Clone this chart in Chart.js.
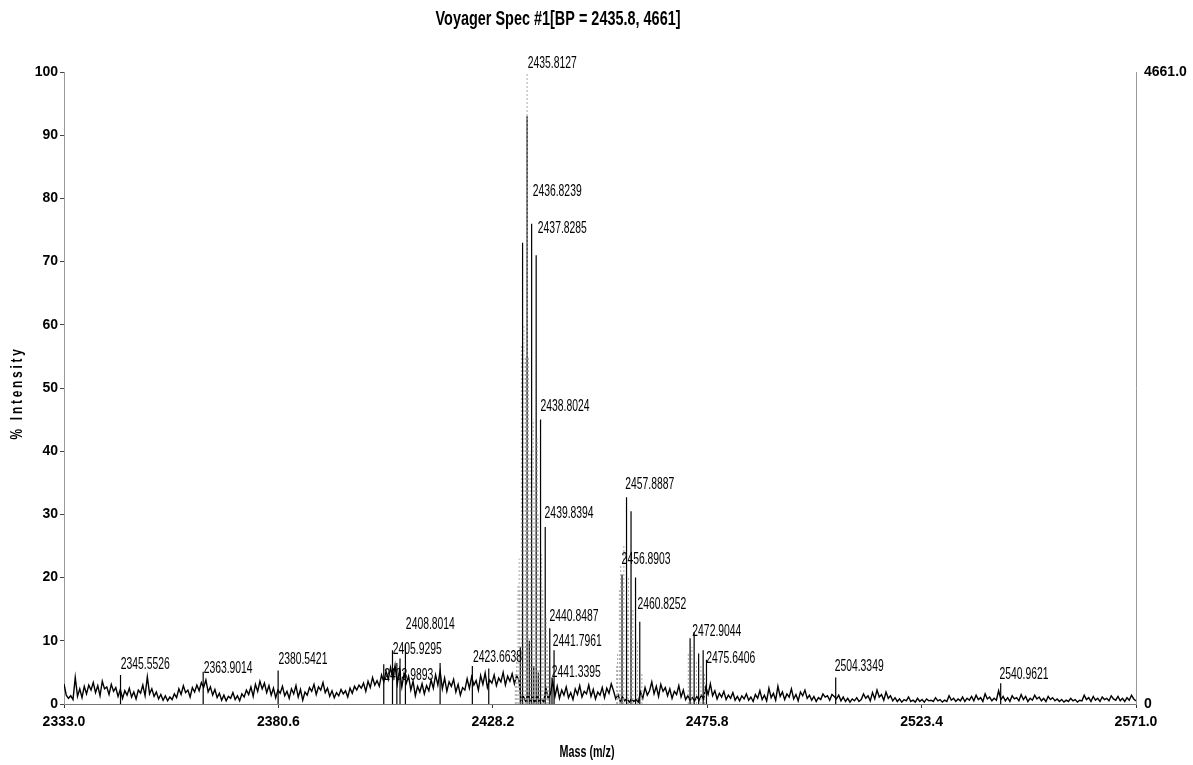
<!DOCTYPE html>
<html>
<head>
<meta charset="utf-8">
<script src="https://cdn.jsdelivr.net/npm/chart.js@4.4.1/dist/chart.umd.min.js"></script>
<style>
  html, body { margin: 0; padding: 0; background: #fff; }
  #wrap { width: 1193px; height: 765px; position: relative; }
</style>
</head>
<body>
<div id="wrap"><canvas id="c" width="1193" height="765"></canvas></div>
<script>
// ---------------- DATA ----------------
const chartTitle = 'Voyager Spec #1[BP = 2435.8, 4661]';
const xAxisTitle = 'Mass (m/z)';
const yAxisTitle = '% Intensity';
const massMin = 2333.0, massMax = 2571.0;
const xTickValues = [2333.0, 2380.6, 2428.2, 2475.8, 2523.4, 2571.0];
const basePeakCounts = 4661;

// baseline noise (% intensity), sampled every 0.5 m/z from 2333.0
const noiseStartMass = 2333.0;
const noiseStep = 0.5;
const noiseValues = [
  3.2,1.4,0.9,1.3,0.7,4.2,1.2,2.4,1.0,2.8,1.6,3.0,2.2,3.4,1.8,2.9,1.3,3.6,2.4,2.7,
  1.5,3.1,2.0,2.6,1.2,2.3,0.9,2.1,1.4,2.5,1.1,1.9,0.8,2.2,1.7,3.0,1.3,4.3,1.6,2.4,
  1.2,1.9,0.8,1.5,0.6,1.3,0.5,1.1,0.7,1.6,1.0,2.4,1.5,2.9,1.8,2.2,1.1,2.6,1.9,3.0,
  2.1,3.4,2.6,3.8,1.9,2.7,1.4,2.3,1.0,1.7,0.6,1.4,0.5,1.2,0.9,1.8,0.7,1.3,0.5,1.6,
  1.1,2.2,1.5,2.7,1.2,3.1,2.0,3.6,2.4,3.3,1.8,2.9,1.4,2.5,1.0,2.2,1.7,2.8,1.3,2.0,
  0.9,2.4,1.6,2.9,1.1,2.3,0.6,1.9,1.4,2.6,2.0,3.1,1.5,2.7,2.2,3.4,1.8,2.5,1.2,2.1,
  1.0,1.8,1.3,2.3,1.6,2.1,1.1,2.5,1.7,2.8,2.2,3.0,2.5,3.3,2.0,3.6,2.6,4.2,3.0,3.7,
  2.8,4.6,3.5,5.2,3.9,5.8,4.0,6.1,3.2,5.4,2.7,4.8,3.3,4.4,2.2,3.6,1.3,2.8,1.9,3.2,
  1.6,2.9,2.1,3.8,2.5,4.6,3.0,5.2,2.4,4.1,2.0,3.5,2.8,3.9,1.9,3.1,1.4,2.6,2.2,4.0,
  2.5,4.3,3.0,3.7,2.2,4.5,3.1,4.9,2.6,3.8,3.3,4.6,2.9,4.1,3.5,5.0,3.0,4.4,3.6,4.8,
  3.2,4.5,3.8,0.6,1.2,0.4,1.5,0.5,1.0,0.3,1.2,0.5,0.8,0.3,2.5,0.8,1.6,3.6,1.2,2.8,
  0.9,2.2,1.4,2.7,1.0,1.8,0.7,2.4,1.5,2.9,1.1,2.0,1.6,3.0,1.2,2.3,0.8,1.9,1.4,2.6,
  1.0,2.5,1.7,3.2,2.1,0.8,1.5,0.4,1.1,0.5,0.9,0.3,0.8,0.4,0.7,0.3,1.9,0.9,2.6,1.4,
  2.1,3.5,1.6,2.8,1.2,3.1,2.0,2.6,1.3,2.4,0.9,2.0,1.5,2.9,1.1,2.2,0.7,1.3,0.6,1.0,
  0.5,1.2,0.6,1.4,0.8,2.7,1.5,3.2,1.3,2.1,0.8,1.7,1.1,2.0,0.7,1.4,0.9,1.8,0.6,1.2,
  0.5,1.3,0.8,1.6,0.6,1.1,0.4,1.5,0.9,2.1,0.7,1.4,0.5,2.5,1.0,1.7,0.6,2.8,1.2,1.9,
  0.7,1.6,1.1,2.4,0.8,1.5,0.5,1.9,1.3,2.2,0.9,1.4,0.6,1.2,0.4,1.0,0.7,1.6,1.1,1.3,
  0.6,1.5,1.2,0.8,1.4,0.5,1.1,0.4,0.9,0.3,0.8,0.5,1.0,0.4,0.7,1.6,0.9,1.3,0.5,1.8,
  0.8,2.2,1.1,1.5,0.6,1.9,0.9,1.3,0.5,1.0,0.4,0.8,0.3,0.7,0.5,1.1,0.4,0.6,0.3,0.9,
  0.4,0.7,0.3,0.8,0.5,0.6,0.4,1.0,0.5,0.7,0.3,0.6,0.4,1.3,0.6,0.9,0.4,0.8,0.5,1.1,
  0.4,0.9,0.6,1.2,0.5,1.4,0.7,1.0,0.4,1.6,0.8,1.1,0.5,0.9,0.6,2.1,0.7,1.2,0.5,1.0,
  0.4,1.3,0.8,1.0,0.5,1.5,0.7,1.2,0.4,0.9,0.6,1.4,0.8,1.1,0.5,0.9,0.4,1.2,0.7,1.0,
  0.5,0.8,0.4,0.7,0.3,0.6,0.4,0.9,0.5,0.7,0.3,0.6,0.5,1.4,0.7,1.0,0.4,1.2,0.6,0.9,
  0.4,1.1,0.7,0.9,0.5,1.3,0.8,0.6,1.2,0.5,0.9,0.4,1.0,0.6,1.4,0.8,0.5
];

// resolved peaks drawn as black sticks (m/z, % intensity)
const stickMass = [
  2345.55, 2363.90, 2380.54,
  2403.99, 2405.93, 2406.90, 2407.60, 2408.80, 2416.50, 2423.66, 2427.30,
  2434.30, 2434.81, 2435.81, 2436.30, 2436.82, 2437.30, 2437.83, 2438.30, 2438.80, 2439.84, 2440.85, 2441.34, 2441.80,
  2456.89, 2457.89, 2458.89, 2459.89, 2460.83,
  2472.00, 2472.90, 2473.90, 2474.90, 2475.64,
  2504.33, 2540.96
];
const stickIntensity = [
  4.6, 5.1, 5.3,
  6.3, 8.5, 6.5, 7.2, 9.5, 6.5, 6.0, 5.6,
  9.0, 73, 93, 10, 76, 6, 71, 5, 45, 28, 12, 4.2, 8.5,
  20.5, 32.7, 30.5, 20, 13,
  10.4, 11.4, 8.0, 8.5, 7.0,
  4.2, 3.3
];

// unresolved shoulders drawn as grey dotted sticks (m/z, % intensity)
const shoulderMass = [
  2433.20, 2433.50, 2433.80, 2434.05, 2434.20, 2434.55, 2434.95, 2435.10, 2435.45, 2435.60, 2435.81,
  2436.10, 2436.50, 2436.65, 2437.00, 2437.15, 2437.55, 2437.70,
  2438.05, 2438.25, 2438.60, 2439.05, 2439.30, 2439.60, 2440.05, 2440.30, 2440.60,
  2455.70, 2455.90, 2456.30, 2456.60, 2457.10, 2457.30, 2458.10, 2458.30, 2459.10, 2459.30, 2460.30, 2461.30,
  2471.60, 2472.40, 2473.40, 2474.40, 2475.20
];
const shoulderIntensity = [
  5, 8, 19, 23, 18, 57, 30, 60, 55, 48, 100,
  55, 40, 33, 25, 45, 35, 20,
  42, 30, 20, 24, 18, 12, 14, 10, 6,
  6, 8, 18, 22, 19, 25, 16, 20, 12, 15, 10, 5,
  8, 9, 7, 6, 5
];

// peak annotations: text, anchor m/z (left edge), anchor % intensity (text bottom)
const peakLabelText = [
  '2435.8127','2436.8239','2437.8285','2438.8024','2439.8394',
  '2440.8487','2441.7961','2441.3395',
  '2457.8887','2456.8903','2460.8252',
  '2472.9044','2475.6406',
  '2408.8014','2405.9295','2403.9893','2423.6638',
  '2345.5526','2363.9014','2380.5421','2504.3349','2540.9621'
];
const peakLabelMass = [
  2435.95, 2437.05, 2438.2, 2438.8, 2439.7,
  2440.8, 2441.5, 2441.3,
  2457.6, 2456.8, 2460.3,
  2472.5, 2475.6,
  2408.9, 2406.0, 2404.1, 2423.8,
  2345.6, 2364.0, 2380.6, 2504.1, 2540.7
];
const peakLabelLevel = [
  100.6, 80.4, 74.5, 46.4, 29.4,
  13.1, 9.2, 4.3,
  34.0, 22.2, 15.0,
  10.8, 6.5,
  11.9, 7.9, 3.8, 6.6,
  5.5, 4.9, 6.3, 5.2, 4.0
];

// ---------------- BUILD ----------------
const FONT = '"Liberation Sans Narrow", "Arial Narrow", "Liberation Sans", Arial, sans-serif';

const noiseData = noiseValues.map((v, i) => ({ x: noiseStartMass + i * noiseStep, y: v }));
function sticks(masses, values) {
  const out = [];
  masses.forEach((m, i) => {
    out.push({ x: m, y: 0 }, { x: m, y: values[i] }, { x: m, y: null });
  });
  return out;
}

const textPlugin = {
  id: 'textPlugin',
  afterDraw(chart) {
    const { ctx, scales } = chart;
    const x = scales.x, y = scales.y;
    ctx.save();
    ctx.fillStyle = '#000';

    // peak labels
    ctx.font = '13px ' + FONT;
    const lsx = 49 / ctx.measureText('2435.8127').width;
    ctx.textAlign = 'left';
    ctx.textBaseline = 'alphabetic';
    peakLabelText.forEach((t, i) => {
      const px = x.getPixelForValue(peakLabelMass[i]);
      const py = y.getPixelForValue(peakLabelLevel[i]);
      ctx.save();
      ctx.translate(px, py);
      ctx.scale(lsx, 1.3);
      ctx.fillText(t, 0, 0);
      ctx.restore();
    });

    // main title
    ctx.font = 'bold 14px ' + FONT;
    let w = ctx.measureText(chartTitle).width;
    ctx.save();
    ctx.translate(558, 20);
    ctx.scale(245 / w, 1.4);
    ctx.textAlign = 'center';
    ctx.textBaseline = 'middle';
    ctx.fillText(chartTitle, 0, 0);
    ctx.restore();

    // x axis title
    ctx.font = 'bold 12px ' + FONT;
    w = ctx.measureText(xAxisTitle).width;
    ctx.save();
    ctx.translate(587, 753);
    ctx.scale(55 / w, 1.35);
    ctx.textAlign = 'center';
    ctx.textBaseline = 'middle';
    ctx.fillText(xAxisTitle, 0, 0);
    ctx.restore();

    // y axis title
    ctx.font = 'bold 13px ' + FONT;
    ctx.letterSpacing = '3px';
    w = ctx.measureText(yAxisTitle).width;
    ctx.save();
    ctx.translate(18, 393);
    ctx.rotate(-Math.PI / 2);
    ctx.scale(93 / w, 1.25);
    ctx.textAlign = 'center';
    ctx.textBaseline = 'middle';
    ctx.fillText(yAxisTitle, 0, 0);
    ctx.restore();
    ctx.letterSpacing = '0px';

    ctx.restore();
  }
};

const tickFont = { family: FONT, size: 14, weight: 'bold' };

new Chart(document.getElementById('c'), {
  type: 'line',
  data: {
    datasets: [
      {
        label: 'shoulders',
        data: sticks(shoulderMass, shoulderIntensity),
        borderColor: '#a8a8a8',
        borderWidth: 1,
        borderDash: [2, 2],
        pointRadius: 0,
        spanGaps: false,
        yAxisID: 'y'
      },
      {
        label: 'baseline',
        data: noiseData,
        borderColor: '#000',
        borderWidth: 1.4,
        pointRadius: 0,
        tension: 0,
        yAxisID: 'y'
      },
      {
        label: 'peaks',
        data: sticks(stickMass, stickIntensity),
        borderColor: '#000',
        borderWidth: 1.2,
        pointRadius: 0,
        spanGaps: false,
        yAxisID: 'y'
      }
    ]
  },
  options: {
    responsive: false,
    animation: false,
    events: [],
    layout: { padding: { top: 72, left: 0, right: 0, bottom: 0 } },
    plugins: {
      legend: { display: false },
      title: { display: false },
      tooltip: { enabled: false }
    },
    scales: {
      x: {
        type: 'linear',
        min: massMin,
        max: massMax,
        afterBuildTicks: s => { s.ticks = xTickValues.map(v => ({ value: v })); },
        afterFit: s => { s.height = 61; },
        ticks: {
          callback: v => Number(v).toFixed(1),
          font: tickFont,
          color: '#000',
          maxRotation: 0,
          autoSkip: false,
          padding: 6
        },
        grid: { drawOnChartArea: false, drawTicks: true, tickLength: 4, color: '#333' },
        border: { display: true, color: '#777', dash: [2, 2] }
      },
      y: {
        min: 0,
        max: 100,
        afterFit: s => { s.width = 64; },
        ticks: { stepSize: 10, font: tickFont, color: '#000', padding: 2 },
        grid: { drawOnChartArea: false, drawTicks: true, tickLength: 4, color: '#444' },
        border: { display: true, color: '#999', dash: [1, 2] }
      },
      y2: {
        position: 'right',
        min: 0,
        max: basePeakCounts,
        afterBuildTicks: s => { s.ticks = [{ value: 0 }, { value: basePeakCounts }]; },
        afterFit: s => { s.width = 57; },
        ticks: {
          callback: v => (v === 0 ? '0' : Number(v).toFixed(1)),
          font: tickFont,
          color: '#000',
          padding: 8
        },
        grid: { drawOnChartArea: false, drawTicks: false },
        border: { display: true, color: '#999', dash: [1, 2] }
      }
    }
  },
  plugins: [textPlugin]
});
</script>
</body>
</html>
